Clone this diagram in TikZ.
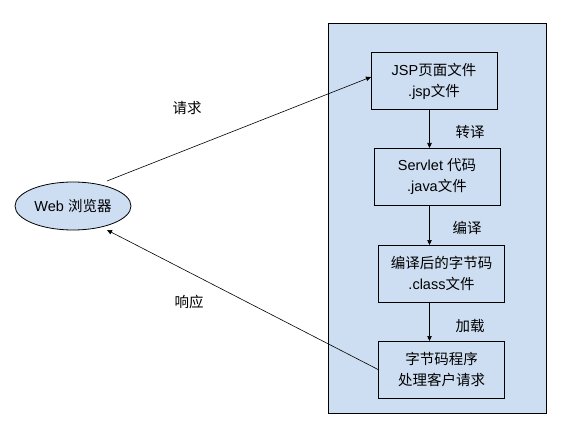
\documentclass[tikz,border=0pt]{standalone}
\usepackage{fontspec}
\setmainfont{Liberation Sans}
\newfontfamily\cjk{Noto Sans CJK SC}
\usetikzlibrary{shapes.geometric,arrows.meta}
\definecolor{fillblue}{RGB}{206,222,242}
\tikzset{
  x=1pt,y=-1pt,
  stepbox/.style={draw=black,fill=fillblue,line width=0.8pt,minimum width=126pt,minimum height=57pt,align=center,inner sep=0pt,font=\fontsize{14.5}{21}\selectfont},
  conn/.style={draw=black,line width=0.6pt,-{Triangle[length=5pt,width=4.5pt]}},
  lbl/.style={font=\fontsize{14.5}{16}\selectfont\cjk,inner sep=0pt}
}
\begin{document}
\begin{tikzpicture}
\useasboundingbox (0,0) rectangle (582,436);
\node[draw=black,fill=fillblue,line width=0.8pt,minimum width=218pt,minimum height=390pt,inner sep=0pt] (panel) at (437,218) {};
\node[stepbox] (jsp) at (434,81) {JSP{\cjk 页面文件}\\.jsp{\cjk 文件}};
\node[stepbox] (servlet) at (437,176.5) {Servlet {\cjk 代码}\\.java{\cjk 文件}};
\node[stepbox] (cls) at (441.5,273.5) {{\cjk 编译后的字节码}\\.class{\cjk 文件}};
\node[stepbox] (run) at (441.5,369.5) {{\cjk 字节码程序}\\{\cjk 处理客户请求}};
\node[ellipse,draw=black,fill=fillblue,line width=0.8pt,minimum width=116pt,minimum height=48pt,inner sep=0pt,font=\fontsize{14.5}{16}\selectfont] (web) at (73,206) {Web {\cjk 浏览器}};
\coordinate (a1) at (429.5,110);
\coordinate (a2) at (429.5,148);
\coordinate (b1) at (429.5,205);
\coordinate (b2) at (429.5,245);
\coordinate (c1) at (429.5,302);
\coordinate (c2) at (429.5,341);
\draw[conn] (a1) -- (a2);
\draw[conn] (b1) -- (b2);
\draw[conn] (c1) -- (c2);
\coordinate (w1) at (107,181);
\coordinate (w2) at (107,230);
\coordinate (j1) at (371,77);
\coordinate (r1) at (379,370);
\draw[conn] (w1) -- (j1);
\draw[conn] (r1) -- (w2);
\node[lbl] (t1) at (470,132) {转译};
\node[lbl] (t2) at (467,228) {编译};
\node[lbl] (t3) at (470,326) {加载};
\node[lbl] (t4) at (187,108) {请求};
\node[lbl] (t5) at (189,302) {响应};
\end{tikzpicture}
\end{document}
